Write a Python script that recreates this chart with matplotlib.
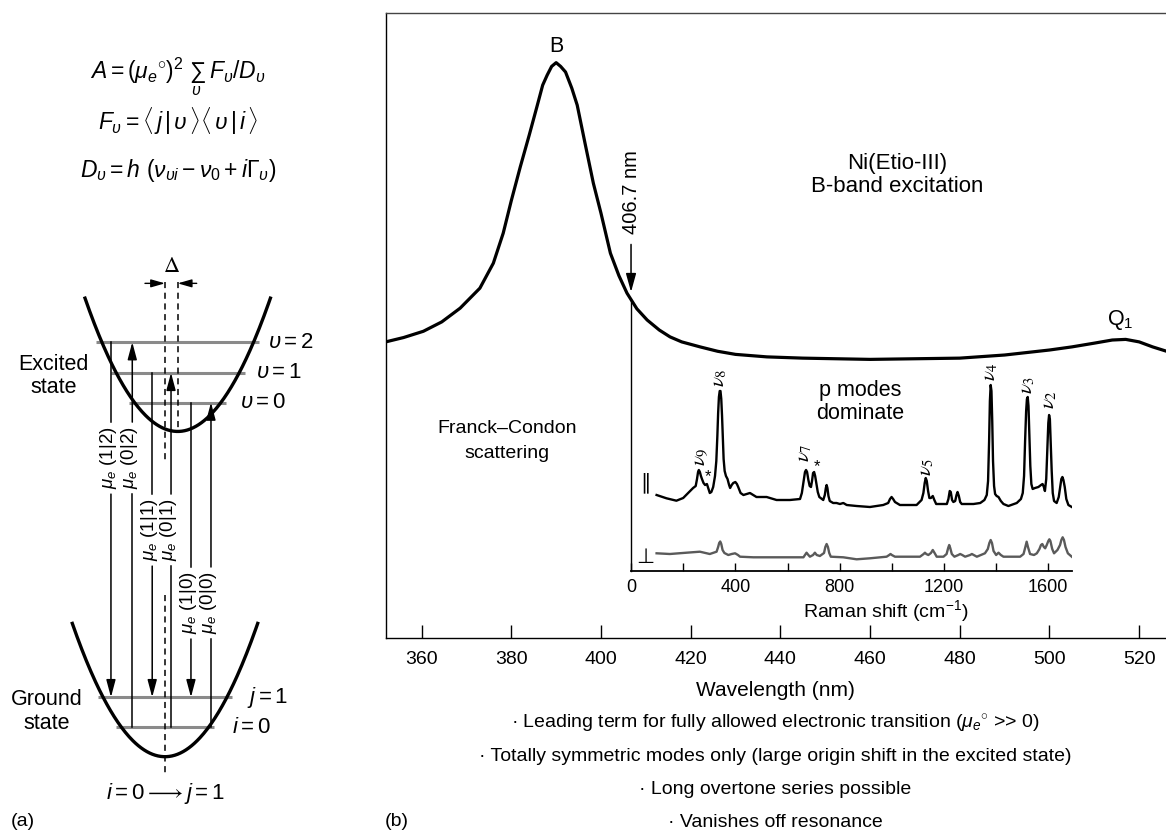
import numpy as np
import matplotlib
matplotlib.use('Agg')
import matplotlib.pyplot as plt
from matplotlib.ticker import FixedLocator

plt.rcParams['font.family'] = ['Liberation Sans', 'DejaVu Sans']
plt.rcParams['mathtext.fontset'] = 'custom'
plt.rcParams['mathtext.rm'] = 'Liberation Sans'
plt.rcParams['mathtext.it'] = 'Liberation Sans:italic'
plt.rcParams['mathtext.bf'] = 'Liberation Sans:bold'

# ---------------- data ----------------
# absorption spectrum (wavelength nm, relative absorbance)
abs_wl = [352.0, 356, 360.4, 364.5, 368.6, 373.0, 376, 378.2, 380, 382.0, 384, 385.7,
          387, 388.0, 389, 390.0, 391, 392.1, 393.5, 394.7, 396.5, 398.3, 400, 402.1,
          404, 405.8, 408, 410.3, 413, 415.4, 418, 422.1, 426, 430, 437, 445, 460,
          480, 490, 500, 505, 510, 514, 517, 520, 523, 527]
abs_val = [0.474, 0.481, 0.491, 0.506, 0.528, 0.560, 0.600, 0.648, 0.700, 0.754, 0.805, 0.850,
           0.885, 0.901, 0.915, 0.921, 0.915, 0.906, 0.880, 0.853, 0.790, 0.728, 0.680, 0.616,
           0.580, 0.552, 0.527, 0.509, 0.493, 0.482, 0.474, 0.466, 0.459, 0.454, 0.450, 0.448, 0.446,
           0.448, 0.453, 0.461, 0.466, 0.472, 0.477, 0.478, 0.474, 0.466, 0.457]
main_xticks = [360, 380, 400, 420, 440, 460, 480, 500, 520]
excitation_nm = 406.7

# Raman spectra (shift cm-1, intensity arb.)
par_shift = [98, 136, 174, 200, 219, 238, 248, 253, 257, 260, 264, 268, 272, 278, 284, 291, 297,
             302, 308, 315, 322, 327, 331, 334, 337, 340, 343, 346, 349, 352, 355, 359, 364, 370,
             376, 380, 386, 392, 400, 406, 411, 420, 431, 456, 481, 520, 558, 609, 648, 655, 662,
             667, 671, 675, 680, 685, 690, 694, 698, 702, 706, 711, 716, 722, 737, 743, 747, 750,
             753, 757, 762, 775, 788, 801, 814, 827, 865, 916, 967, 986, 993, 999, 1005, 1012, 1031,
             1095, 1114, 1121, 1126, 1130, 1134, 1139, 1144, 1150, 1157, 1163, 1170, 1211, 1217,
             1222, 1226, 1231, 1236, 1243, 1248, 1252, 1257, 1262, 1268, 1313, 1339, 1355, 1364,
             1369, 1373, 1376, 1379, 1382, 1385, 1388, 1392, 1396, 1402, 1409, 1418, 1428, 1447,
             1479, 1495, 1502, 1507, 1511, 1515, 1518, 1521, 1524, 1527, 1531, 1535, 1540, 1549,
             1562, 1572, 1578, 1583, 1587, 1592, 1596, 1600, 1603, 1606, 1609, 1613, 1617, 1622,
             1632, 1640, 1645, 1650, 1654, 1658, 1663, 1669, 1677, 1690]
par_int = [76, 72.7, 70.3, 73, 78, 83, 85, 92, 99, 101, 99, 95, 92, 88, 86, 87, 82,
           78, 79, 84, 95, 110, 135, 158, 174, 180, 180, 172, 155, 132, 112, 100, 95, 92,
           86, 83, 86, 88, 89, 87, 84, 78, 76, 78, 74, 74, 71, 71, 72, 78, 90,
           99, 101, 99, 91, 85, 84, 90, 98, 99, 95, 87, 79, 74, 71, 76, 83, 86,
           83, 75, 70, 68, 68, 67, 68, 66, 65, 64, 66, 68, 72, 74, 72, 69, 66,
           66, 71, 78, 88, 93, 90, 80, 73, 73, 75, 71, 67, 67, 72,
           80, 79, 71, 69, 70, 76, 79, 75, 69, 67, 67, 68, 71, 76,
           90, 130, 170, 186, 180, 150, 110, 85, 77, 75, 74, 70, 67, 65,
           68, 72, 78, 95, 130, 160, 172, 174, 165, 140, 105, 87, 82, 83,
           84, 86, 87, 84, 80, 92, 120, 148, 156, 152, 130, 100, 78, 70,
           68, 74, 83, 92, 94, 91, 84, 72, 66, 64]
per_shift = [98, 149, 213, 264, 302, 328, 334, 338, 342, 346, 351, 358, 373, 386, 399, 410, 418,
             469, 661, 667, 673, 680, 686, 698, 705, 712, 724, 740, 745, 750, 755, 760, 766, 814,
             865, 916, 980, 990, 995, 1000, 1012, 1108, 1122, 1127, 1132, 1140, 1150, 1157, 1164,
             1172, 1198, 1210, 1216, 1220, 1224, 1230, 1240, 1255, 1262, 1270, 1281, 1300, 1307,
             1314, 1326, 1357, 1368, 1374, 1379, 1384, 1390, 1400, 1409, 1418, 1428, 1492, 1505,
             1512, 1517, 1522, 1530, 1545, 1556, 1566, 1572, 1577, 1583, 1588, 1594, 1600, 1604,
             1608, 1615, 1622, 1635, 1645, 1650, 1655, 1660, 1666, 1675, 1690]
per_int = [17.7, 17, 18.3, 19.3, 17, 19.3, 24, 28, 29.5, 27, 21, 18, 16, 17, 17.7, 16, 14.3,
           13.7, 13.7, 16, 18.3, 16, 14.3, 16, 18.3, 16, 15, 18, 24, 27, 24, 18, 14.3, 13.7,
           11.7, 12.7, 14.3, 16, 17, 16, 14.3, 14.3, 17, 18.3, 17, 16, 18, 21, 18,
           14.3, 14.3, 17, 23, 26, 23, 17, 14.3, 16, 17, 16, 14.3, 16, 17,
           16, 14.3, 17.7, 22, 28, 31, 28, 20, 16, 18.3, 16, 14.3, 14.3, 17,
           24, 29.3, 24, 17, 16, 17.7, 22, 26, 27, 24, 22.7, 26, 30, 31.7,
           30, 22, 17.7, 21, 26, 31, 33.7, 31, 24, 17.7, 14.3]
raman_major = [0, 400, 800, 1200, 1600]
raman_minor = [200, 600, 1000, 1400]

# Raman band labels: (label, shift, height)
band_labels = [(r'$\nu_9$', 268, 114), (r'$\nu_8$', 341, 193), (r'$\nu_7$', 665, 118),
               (r'$\nu_5$', 1132, 104), (r'$\nu_4$', 1378, 199), (r'$\nu_3$', 1520, 186),
               (r'$\nu_2$', 1604, 171)]
star_labels = [(296, 94), (712, 104)]

# schematic (a): energies of vibrational levels
ground_levels = [0.22, 0.446]            # i = 0, j = 1
excited_levels = [2.657, 2.88, 3.11]     # v = 0, 1, 2
excited_min = 2.44
displacement = 0.137
trans_q = [-0.583, -0.353, -0.138, 0.065, 0.280, 0.496]
trans_v = [2, 2, 1, 1, 0, 0]
trans_dir = ['down', 'up', 'down', 'up', 'down', 'up']
trans_lab = ['(1|2)', '(0|2)', '(1|1)', '(0|1)', '(1|0)', '(0|0)']
trans_lab_e = [2.24, 2.24, 1.70, 1.70, 1.153, 1.153]

bullets = ['\u00b7 Leading term for fully allowed electronic transition ($\\mu_e{}^{\\circ}$ >> 0)',
           '\u00b7 Totally symmetric modes only (large origin shift in the excited state)',
           '\u00b7 Long overtone series possible',
           '\u00b7 Vanishes off resonance']

# ---------------- figure ----------------
W, H = 1166, 834
fig = plt.figure(figsize=(W / 100, H / 100), dpi=100)


def fx(p):
    return p / W


def fy(p):
    return 1 - p / H


# ---- main absorption axes ----
mL, mR, mT, mB = 385.7, 1172.0, 13.3, 638.0
pxnm = 4.485
ax = fig.add_axes([fx(mL), fy(mB), (mR - mL) / W, (mB - mT) / H])
ax.set_xlim(352, 352 + (mR - mL) / pxnm)
ax.set_ylim(0, 1)
ax.plot(abs_wl, abs_val, color='k', lw=2.3, solid_joinstyle='round')
ax.spines['right'].set_visible(False)
for s in ['left', 'top', 'bottom']:
    ax.spines[s].set_linewidth(1.0)
ax.spines['top'].set_color('#444444')
ax.set_yticks([])
ax.xaxis.set_major_locator(FixedLocator(main_xticks))
ax.tick_params(axis='x', direction='in', length=9.5, width=1.0, labelsize=14, pad=9)

ax.text(390, 0.947, 'B', ha='center', va='center', fontsize=15.5)
ax.text(515.7, 0.509, r'Q$_1$', ha='center', va='center', fontsize=15.5)
ax.text(466, 0.760, 'Ni(Etio-III)', ha='center', va='center', fontsize=16)
ax.text(466, 0.722, 'B-band excitation', ha='center', va='center', fontsize=16)
ax.text(379, 0.336, 'Franck\u2013Condon', ha='center', va='center', fontsize=14)
ax.text(379, 0.296, 'scattering', ha='center', va='center', fontsize=14)

a_exc = np.interp(excitation_nm, abs_wl, abs_val)
ax.annotate('', xy=(excitation_nm, a_exc + 0.012), xytext=(excitation_nm, 0.63),
            arrowprops=dict(arrowstyle='-|>,head_length=0.8,head_width=0.22', color='k',
                            lw=1.1, shrinkA=0, shrinkB=0, mutation_scale=14))
ax.text(excitation_nm, 0.714, '406.7 nm', rotation=90, ha='center', va='center', fontsize=14.5)

# ---- Raman inset ----
inL = mL + (excitation_nm - 352) * pxnm
inT = mB - a_exc * (mB - mT)
inB = 571.0
inR = inL + 1690 * 0.2608
axi = fig.add_axes([fx(inL), fy(inB), (inR - inL) / W, (inB - inT) / H])
axi.set_xlim(0, 1690)
axi.set_ylim(0, inB - inT)
axi.patch.set_alpha(0)
axi.spines['top'].set_visible(False)
axi.spines['right'].set_visible(False)
axi.spines['left'].set_linewidth(1.0)
axi.spines['bottom'].set_linewidth(1.3)
axi.set_yticks([])
axi.xaxis.set_major_locator(FixedLocator(raman_major))
axi.xaxis.set_minor_locator(FixedLocator(raman_minor))
axi.tick_params(axis='x', which='both', direction='in', length=6, width=1.0, labelsize=13, pad=6)
axi.plot(par_shift, par_int, color='k', lw=1.7, solid_joinstyle='round')
axi.plot(per_shift, per_int, color='#5a5a5a', lw=1.7, solid_joinstyle='round')
for lab, xs, yv in band_labels:
    axi.text(xs, yv, lab, rotation=90, ha='center', va='center', fontsize=15,
             math_fontfamily='stix')
for xs, yv in star_labels:
    axi.text(xs, yv, '*', ha='center', va='center', fontsize=12)
axi.text(54, 88, '\u2225', ha='center', va='center', fontsize=15, family='DejaVu Sans')
axi.text(54, 14, '\u22a5', ha='center', va='center', fontsize=15, family='DejaVu Sans')
axi.text(880, 169, 'p modes\ndominate', ha='center', va='center', fontsize=15.5, linespacing=1.1)
axi.text(978, -27, 'Raman shift (cm$^{-1}$)', ha='center', va='top', fontsize=14)

# ---- bottom text of (b) ----
fig.text(fx(775), fy(691), 'Wavelength (nm)', ha='center', va='center', fontsize=15)
for k, t in enumerate(bullets):
    fig.text(fx(775), fy(724 + 32.7 * k), t, ha='center', va='center', fontsize=14)
fig.text(fx(385), fy(822), '(b)', ha='left', va='center', fontsize=14)
fig.text(fx(11), fy(822), '(a)', ha='left', va='center', fontsize=14)

# ---- equations of (a) ----
eqs = [r'$A = (\mu_e{}^{\circ})^2\ \sum_{\upsilon}\ F_{\upsilon}/D_{\upsilon}$',
       r'$F_{\upsilon} = \langle\, j\,|\,\upsilon\,\rangle\langle\,\upsilon\,|\,i\,\rangle$',
       r'$D_{\upsilon} = h\ (\nu_{\upsilon i} - \nu_0 + i\Gamma_{\upsilon})$']
for k, (e, yy) in enumerate(zip(eqs, [76.7, 121.7, 170])):
    fig.text(fx(178), fy(yy), e, ha='center', va='center', fontsize=16.5)

# ---- schematic (a) ----
axa = fig.add_axes([0, 0, 340 / W, 1])
axa.set_xlim(-165 / 92.7, (340 - 165) / 92.7)
axa.set_ylim((756.7 - 834) / 133.3, 756.7 / 133.3)
axa.axis('off')

q = np.linspace(-1.0, 1.0, 200)
axa.plot(q, q ** 2, color='k', lw=2.4, zorder=4)
axa.plot(q + displacement, excited_min + q ** 2, color='k', lw=2.4, zorder=4)

ext = 0.06
for e in ground_levels:
    w = np.sqrt(e) + ext
    axa.plot([-w, w], [e, e], color='#8a8a8a', lw=2.2, zorder=1, solid_capstyle='butt')
for e in excited_levels:
    w = np.sqrt(e - excited_min) + ext
    axa.plot([displacement - w, displacement + w], [e, e], color='#8a8a8a', lw=2.2, zorder=1,
             solid_capstyle='butt')

aprops = dict(arrowstyle='-|>,head_length=0.75,head_width=0.2', color='k', lw=1.1,
              shrinkA=0, shrinkB=0, mutation_scale=14)
gap = 0.27
for xq, v, d, lab, le in zip(trans_q, trans_v, trans_dir, trans_lab, trans_lab_e):
    top = excited_levels[v]
    bot = ground_levels[1] if d == 'down' else ground_levels[0]
    if d == 'down':
        axa.plot([xq, xq], [top, le + gap], color='k', lw=1.1, zorder=2)
        axa.annotate('', xy=(xq, bot), xytext=(xq, le - gap), arrowprops=aprops, zorder=2)
    else:
        axa.plot([xq, xq], [bot, le - gap], color='k', lw=1.1, zorder=2)
        axa.annotate('', xy=(xq, top), xytext=(xq, le + gap), arrowprops=aprops, zorder=2)
    axa.text(xq - 0.03, le, r'$\mu_e$ ' + lab, rotation=90, ha='center', va='center',
             fontsize=13.5)

# dashed equilibrium lines
axa.plot([0, 0], [3.563, 2.226], color='k', lw=1.1, ls=(0, (4, 3)))
axa.plot([0, 0], [1.213, -0.122], color='k', lw=1.1, ls=(0, (4, 3)))
axa.plot([displacement, displacement], [3.563, 2.428], color='k', lw=1.1, ls=(0, (4, 3)))
darr = dict(arrowstyle='-|>,head_length=0.7,head_width=0.2', color='k', lw=1.0,
            shrinkA=0, shrinkB=0, mutation_scale=12)
axa.annotate('', xy=(0, 3.551), xytext=(-0.216, 3.551), arrowprops=darr)
axa.annotate('', xy=(displacement, 3.551), xytext=(0.342, 3.551), arrowprops=darr)
axa.text(0.072, 3.60, r'$\Delta$', ha='center', va='bottom', fontsize=16, math_fontfamily='stix')

lev_lab_x = [0.81, 0.984, 1.116]
for k, (e, xx) in enumerate(zip(excited_levels, lev_lab_x)):
    axa.text(xx, e, r'$\upsilon = %d$' % k, ha='left', va='center', fontsize=16)
axa.text(0.881, ground_levels[1], r'$j = 1$', ha='left', va='center', fontsize=16)
axa.text(0.726, ground_levels[0], r'$i = 0$', ha='left', va='center', fontsize=16)
axa.text(-1.205, 2.857, 'Excited\nstate', ha='center', va='center', fontsize=15.5,
         linespacing=1.15)
axa.text(-1.276, 0.338, 'Ground\nstate', ha='center', va='center', fontsize=15.5,
         linespacing=1.15)
axa.text(0, -0.275, r'$i = 0 \longrightarrow j = 1$', ha='center', va='center', fontsize=16)

fig.savefig('out.png', dpi=100)
